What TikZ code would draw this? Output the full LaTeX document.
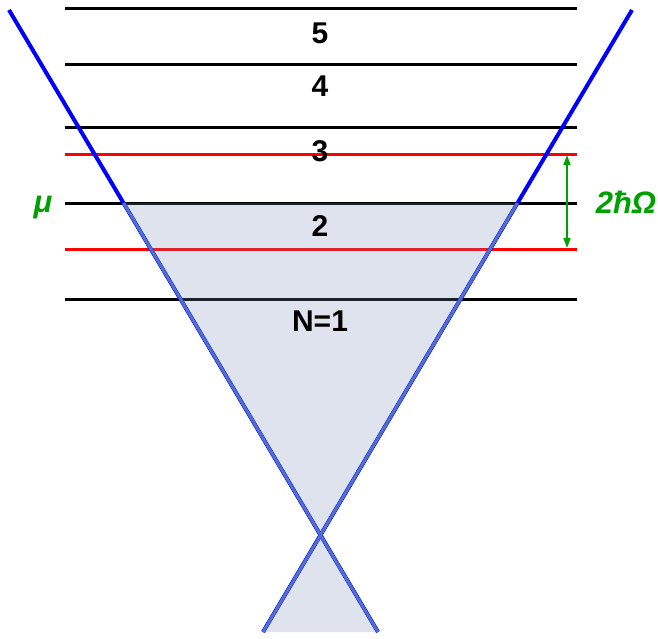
\documentclass[tikz,border=0pt]{standalone}
\usepackage{fontspec}
\setmainfont{Liberation Sans}
\usetikzlibrary{arrows.meta}
\definecolor{lvlred}{RGB}{255,0,0}
\definecolor{mygreen}{RGB}{0,160,0}
\definecolor{overlaycol}{RGB}{120,140,184}
\definecolor{edgeblue}{RGB}{80,110,205}
\tikzset{
  level/.style={line width=3pt},
  redlevel/.style={line width=3pt, draw=lvlred},
  cone/.style={line width=4pt, draw=blue},
  overlay fill/.style={fill=overlaycol, fill opacity=0.24},
  lbl/.style={font=\fontsize{30}{30}\selectfont\bfseries, text=black, inner sep=0pt},
  glbl/.style={font=\fontsize{31}{31}\selectfont\bfseries\itshape, text=mygreen, inner sep=0pt}
}
\begin{document}
\begin{tikzpicture}[x=1pt,y=-1pt]
\useasboundingbox (0,0) rectangle (658,638);
% levels
\draw[level] (65,8) -- (577,8);
\draw[level] (65,64) -- (577,64);
\draw[level] (65,127) -- (577,127);
\draw[redlevel] (65,154) -- (577,154);
\draw[level] (65,203) -- (577,203);
\draw[redlevel] (65,249) -- (577,249);
\draw[level] (65,299) -- (577,299);
% cone lines
\draw[cone] (9,10) -- (378,632);
\draw[cone] (632,10) -- (263,632);
% shaded overlay
\path[overlay fill] (123.5,203) -- (517.5,203) -- (320.5,535) -- cycle;
\path[overlay fill] (320.5,535) -- (378,632) -- (263,632) -- cycle;
\draw[edgeblue, line width=3pt] (123.5,203) -- (378,632);
\draw[edgeblue, line width=3pt] (517.5,203) -- (263,632);
% labels
\node[lbl] (l5) at (320,33) {5};
\node[lbl] (l4) at (320,86) {4};
\node[lbl] (l3) at (320,151) {3};
\node[lbl] (l2) at (320,226) {2};
\node[lbl] (l1) at (320,321) {N=1};
\node[glbl] (mu) at (43,208) {μ};
\node[glbl] (hw) at (626,202) {2ħΩ};
% arrow
\coordinate (atop) at (567,155);
\coordinate (abot) at (567,248);
\draw[mygreen, line width=1.6pt, {Triangle[length=10pt,width=7pt]}-{Triangle[length=10pt,width=7pt]}] (atop) -- (abot);
\end{tikzpicture}
\end{document}
